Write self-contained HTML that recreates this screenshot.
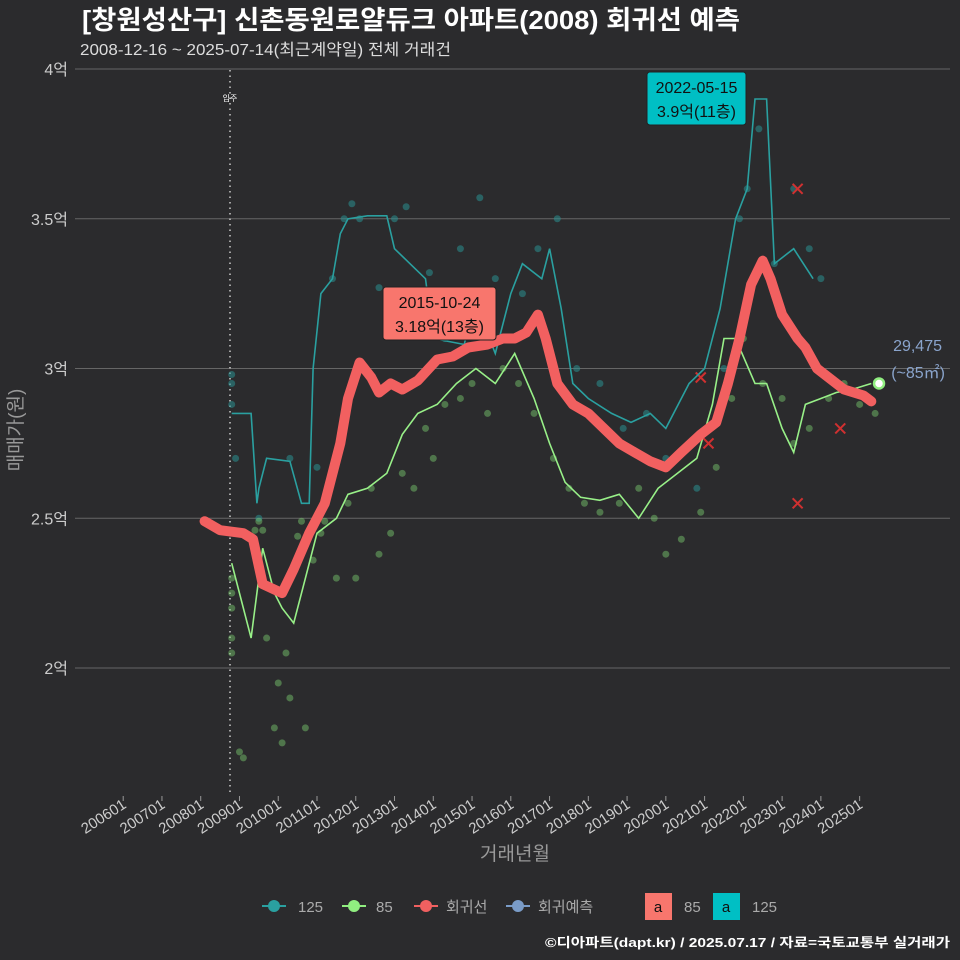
<!DOCTYPE html>
<html><head><meta charset="utf-8">
<style>
body{margin:0;background:#2b2b2d;}
svg{display:block;font-family:"Liberation Sans","Noto Sans CJK KR",sans-serif;}
</style></head>
<body>
<svg id="c" width="960" height="960" viewBox="0 0 960 960">
<rect width="960" height="960" fill="#2b2b2d"/>
<text x="82" y="29" fill="#fff" font-size="26" font-weight="bold" textLength="658" lengthAdjust="spacingAndGlyphs">[창원성산구] 신촌동원로얄듀크 아파트(2008) 회귀선 예측</text>
<text x="80" y="55" fill="#ddd" font-size="16" textLength="371" lengthAdjust="spacingAndGlyphs">2008-12-16 ~ 2025-07-14(최근계약일) 전체 거래건</text>
<g id="grid"></g><g id="pts"></g><g id="lines"></g><g id="ann"></g>
<text transform="translate(22,430) rotate(-90)" text-anchor="middle" fill="#999" font-size="19">매매가(원)</text>
<text x="515" y="860" text-anchor="middle" fill="#999" font-size="19">거래년월</text>
<g font-size="15" fill="#aaa">
<g><line x1="262" y1="906" x2="286" y2="906" stroke="#2aa0a0" stroke-width="2"/><circle cx="274" cy="906" r="6" fill="#2aa0a0"/><text x="298" y="912">125</text></g>
<g><line x1="342" y1="906" x2="366" y2="906" stroke="#90ee80" stroke-width="2"/><circle cx="354" cy="906" r="6" fill="#90ee80"/><text x="376" y="912">85</text></g>
<g><line x1="414" y1="906" x2="438" y2="906" stroke="#f06060" stroke-width="2"/><circle cx="426" cy="906" r="6" fill="#f06060"/><text x="446" y="912">회귀선</text></g>
<g><line x1="506" y1="906" x2="530" y2="906" stroke="#7a9cc8" stroke-width="2"/><circle cx="518" cy="906" r="6" fill="#7a9cc8"/><text x="538" y="912">회귀예측</text></g>
<g><rect x="645" y="893" width="27" height="27" fill="#f8766d"/><text x="658" y="912" fill="#111" text-anchor="middle">a</text><text x="684" y="912">85</text></g>
<g><rect x="713" y="893" width="27" height="27" fill="#00bfc4"/><text x="726" y="912" fill="#111" text-anchor="middle">a</text><text x="752" y="912">125</text></g>
</g>
<text x="950" y="947" text-anchor="end" fill="#fff" font-size="13" font-weight="bold" textLength="405" lengthAdjust="spacingAndGlyphs">©디아파트(dapt.kr) / 2025.07.17 / 자료=국토교통부 실거래가</text>
</svg>
<script>
const yTicks=[2,2.5,3,3.5,4];
const yTickLabels=["2억","2.5억","3억","3.5억","4억"];
const xTickYears=[2006,2007,2008,2009,2010,2011,2012,2013,2014,2015,2016,2017,2018,2019,2020,2021,2022,2023,2024,2025];
const regT=[2008.1,2008.5,2009.1,2009.35,2009.6,2010.1,2010.4,2010.8,2011.2,2011.6,2011.8,2012.1,2012.4,2012.6,2012.9,2013.2,2013.6,2014.1,2014.5,2014.9,2015.4,2015.8,2016.1,2016.4,2016.7,2016.9,2017.2,2017.6,2018.0,2018.4,2018.8,2019.2,2019.6,2020.0,2020.4,2020.9,2021.3,2021.6,2021.9,2022.2,2022.5,2022.7,2023.0,2023.4,2023.6,2023.9,2024.2,2024.6,2025.1,2025.3];
const regV=[2.49,2.46,2.45,2.43,2.28,2.25,2.33,2.45,2.55,2.75,2.9,3.02,2.97,2.92,2.95,2.93,2.96,3.03,3.04,3.07,3.08,3.1,3.1,3.12,3.18,3.1,2.95,2.88,2.85,2.8,2.75,2.72,2.69,2.67,2.72,2.78,2.82,2.95,3.1,3.28,3.36,3.3,3.18,3.1,3.07,3.0,2.97,2.93,2.91,2.89];
const t125=[2008.8,2009.3,2009.45,2009.5,2009.7,2010.3,2010.6,2010.8,2010.9,2011.1,2011.4,2011.6,2011.8,2012.3,2012.8,2013.0,2013.8,2014.0,2014.8,2015.0,2015.3,2015.6,2016.0,2016.3,2016.8,2017.0,2017.3,2017.6,2018.0,2018.6,2019.1,2019.6,2020.0,2020.6,2021.0,2021.4,2021.8,2022.1,2022.3,2022.6,2022.8,2023.3,2023.8];
const v125=[2.85,2.85,2.55,2.6,2.7,2.69,2.55,2.55,3.0,3.25,3.3,3.45,3.5,3.51,3.51,3.4,3.3,3.1,3.08,3.2,3.15,3.05,3.25,3.35,3.3,3.4,3.2,2.95,2.9,2.85,2.82,2.85,2.8,2.95,3.0,3.2,3.5,3.6,3.9,3.9,3.35,3.4,3.3];
const t85=[2008.8,2009.3,2009.6,2009.9,2010.1,2010.4,2010.7,2011.0,2011.5,2011.8,2012.3,2012.8,2013.2,2013.6,2014.1,2014.6,2015.1,2015.6,2016.1,2016.6,2017.0,2017.4,2017.8,2018.3,2018.8,2019.3,2019.8,2020.3,2020.8,2021.2,2021.5,2021.8,2022.3,2022.6,2023.0,2023.3,2023.6,2024.0,2024.4,2024.8,2025.3];
const v85=[2.35,2.1,2.4,2.25,2.2,2.15,2.3,2.45,2.5,2.58,2.6,2.65,2.78,2.85,2.88,2.95,3.0,2.95,3.05,2.9,2.75,2.62,2.57,2.56,2.58,2.5,2.6,2.65,2.7,2.88,3.1,3.1,2.95,2.95,2.8,2.72,2.88,2.9,2.92,2.93,2.95];
const pT85=[2008.8,2008.8,2008.8,2008.8,2008.8,2009.0,2009.1,2009.4,2009.5,2009.6,2009.7,2009.9,2010.0,2010.1,2010.2,2010.3,2010.5,2010.6,2010.7,2010.9,2011.1,2011.2,2011.5,2011.8,2012.0,2012.4,2012.6,2012.9,2013.2,2013.5,2013.8,2014.0,2014.3,2014.7,2015.0,2015.4,2015.8,2016.2,2016.6,2017.1,2017.5,2017.9,2018.3,2018.8,2019.3,2019.7,2020.0,2020.4,2020.9,2021.3,2021.7,2022.0,2022.5,2023.0,2023.3,2023.7,2024.2,2024.6,2025.0,2025.4];
const pV85=[2.3,2.25,2.2,2.1,2.05,1.72,1.7,2.46,2.49,2.46,2.1,1.8,1.95,1.75,2.05,1.9,2.44,2.49,1.8,2.36,2.45,2.49,2.3,2.55,2.3,2.6,2.38,2.45,2.65,2.6,2.8,2.7,2.88,2.9,2.95,2.85,3.0,2.95,2.85,2.7,2.6,2.55,2.52,2.55,2.6,2.5,2.38,2.43,2.52,2.67,2.9,3.1,2.95,2.9,2.75,2.8,2.9,2.95,2.88,2.85];
const pT125=[2008.8,2008.8,2008.8,2008.9,2009.5,2010.3,2011.0,2011.4,2011.7,2011.9,2012.1,2012.6,2013.0,2013.3,2013.9,2014.3,2014.7,2015.2,2015.6,2016.3,2016.7,2017.2,2017.7,2018.3,2018.9,2019.5,2020.0,2020.8,2021.5,2021.9,2022.1,2022.4,2022.8,2023.3,2023.7,2024.0];
const pV125=[2.98,2.95,2.88,2.7,2.5,2.7,2.67,3.3,3.5,3.55,3.5,3.27,3.5,3.54,3.32,3.1,3.4,3.57,3.3,3.25,3.4,3.5,3.0,2.95,2.8,2.85,2.7,2.6,3.0,3.5,3.6,3.8,3.35,3.6,3.4,3.3];
const xT=[2023.4,2020.9,2021.1,2023.4,2024.5];
const xV=[3.6,2.97,2.75,2.55,2.8];
const predT=[2025.5];
const predV=[2.95];

const X=t=>123.2+(t-2006)*38.76;
const Y=v=>668-(v-2)*299.5;
const NS="http://www.w3.org/2000/svg";
function mk(tag,attrs,parent){const e=document.createElementNS(NS,tag);for(const k in attrs)e.setAttribute(k,attrs[k]);parent.appendChild(e);return e;}
const grid=document.getElementById('grid'),pts=document.getElementById('pts'),lines=document.getElementById('lines'),ann=document.getElementById('ann');
yTicks.forEach((v,i)=>{
 const l=mk('line',{x1:75,x2:950,y1:Y(v),y2:Y(v),stroke:'#666','stroke-width':1},grid);
 
 
 const t=mk('text',{x:68,y:Y(v)+6,fill:'#ccc','font-size':16,'text-anchor':'end'},grid);
 
 
 t.textContent=yTickLabels[i];
});
xTickYears.forEach(y=>{
 const x=X(y);
 const tk=mk('line',{x1:x,x2:x,y1:796,y2:801,stroke:'#999'},grid);
 
 
 const t=mk('text',{transform:`translate(${x+4},807) rotate(-33)`,fill:'#ccc','font-size':15,'text-anchor':'end'},grid);
 
 
 t.textContent=y+'01';
});
const vl=mk('line',{x1:230,x2:230,y1:70,y2:795,stroke:'#ccc','stroke-dasharray':'1.5 4','stroke-width':1.5},grid);


const vt=mk('text',{x:230,y:101,fill:'#fff','font-size':8,'text-anchor':'middle'},grid);


vt.textContent='입주';
pT125.forEach((t,i)=>{const c=mk('circle',{cx:X(t),cy:Y(pV125[i]),r:3.5,fill:'#2a9090','fill-opacity':0.55},pts);
 
 });
pT85.forEach((t,i)=>{const c=mk('circle',{cx:X(t),cy:Y(pV85[i]),r:3.5,fill:'#7cd070','fill-opacity':0.45},pts);
 
 });
xT.forEach((t,i)=>{const g=mk('path',{d:`M${X(t)-5},${Y(xV[i])-5}l10,10m0,-10l-10,10`,stroke:'#d03030','stroke-width':2},pts);
 
 });
function path(ts,vs){return ts.map((t,i)=>(i?'L':'M')+X(t).toFixed(1)+','+Y(vs[i]).toFixed(1)).join('');}
const l125=mk('path',{d:path(t125,v125),fill:'none',stroke:'#2aa0a0','stroke-width':1.6},lines);


const l85=mk('path',{d:path(t85,v85),fill:'none',stroke:'#98f088','stroke-width':1.6},lines);


const lr=mk('path',{d:path(regT,regV),fill:'none',stroke:'#f26060','stroke-width':10,'stroke-linejoin':'round','stroke-linecap':'round'},lines);


predT.forEach((t,i)=>{const c=mk('circle',{cx:X(t),cy:Y(predV[i]),r:5,fill:'#fff',stroke:'#90ee80','stroke-width':2.5},lines);
 
 });
function box(x,y,w,h,fill,l1,l2,name){
 const g=mk('g',{},ann);
 
 
 mk('rect',{x,y,width:w,height:h,rx:3,fill,stroke:'#222'},g);
 mk('text',{x:x+w/2,y:y+21,'font-size':16,'text-anchor':'middle',fill:'#111'},g).textContent=l1;
 mk('text',{x:x+w/2,y:y+45,'font-size':16,'text-anchor':'middle',fill:'#111'},g).textContent=l2;
}
box(647,72,99,53,'#00bfc4','2022-05-15','3.9억(11층)','max-annotation-125');
box(383,287,113,53,'#f8766d','2015-10-24','3.18억(13층)','max-annotation-85');
const p1=mk('text',{x:942,y:351,'font-size':16,'text-anchor':'end',fill:'#8aa4cc'},ann);


p1.textContent='29,475';
const p2=mk('text',{x:945,y:378,'font-size':16,'text-anchor':'end',fill:'#8aa4cc'},ann);


p2.textContent='(~85㎡)';
</script>
</body></html>
